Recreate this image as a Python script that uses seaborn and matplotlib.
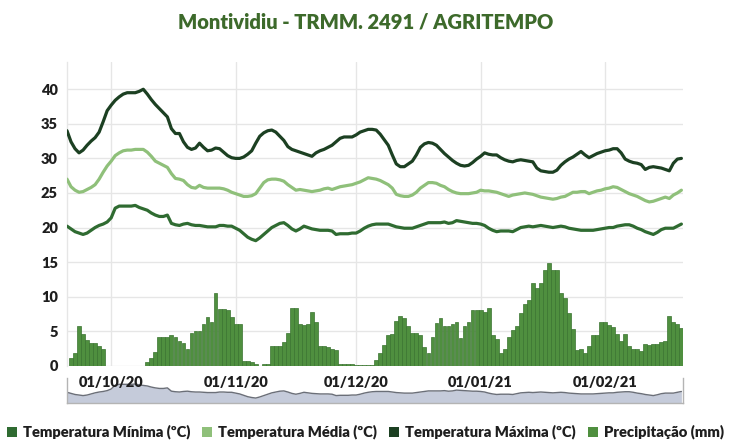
import numpy as np
import pandas as pd
import matplotlib
matplotlib.use("Agg")
import matplotlib.pyplot as plt
import seaborn as sns
from matplotlib.patches import Rectangle

# ---- data -------------------------------------------------------------
start_date = "2020-09-20"
n_days = 154

t_max = [34.0, 32.4, 31.4, 30.8, 31.2, 31.9, 32.5, 33.0, 33.8, 35.3,
         36.9, 37.7, 38.4, 38.9, 39.3, 39.5, 39.5, 39.5, 39.7, 40.0,
         39.3, 38.5, 37.8, 37.2, 36.6, 36.0, 34.3, 33.6, 33.6, 32.4,
         31.6, 31.3, 31.5, 32.2, 31.6, 31.1, 31.2, 31.5, 31.4, 30.9,
         30.4, 30.1, 30.0, 30.0, 30.2, 30.6, 31.1, 32.2, 33.2, 33.7,
         34.0, 34.1, 33.8, 33.2, 32.6, 31.7, 31.3, 31.1, 30.9, 30.7,
         30.5, 30.3, 30.8, 31.1, 31.3, 31.6, 31.9, 32.4, 32.9, 33.1,
         33.1, 33.1, 33.4, 33.8, 34.0, 34.2, 34.2, 34.1, 33.5, 32.7,
         31.9, 30.5, 29.2, 28.8, 28.8, 29.2, 29.6, 30.5, 31.6, 32.1,
         32.3, 32.2, 31.9, 31.3, 30.7, 30.2, 29.7, 29.3, 29.0, 28.9,
         29.0, 29.4, 29.9, 30.3, 30.8, 30.6, 30.5, 30.5, 30.1, 29.8,
         29.6, 29.5, 29.7, 29.8, 29.7, 29.6, 29.5, 28.6, 28.2, 28.1,
         28.0, 28.0, 28.3, 29.0, 29.5, 29.9, 30.2, 30.6, 31.0, 30.5,
         30.1, 30.4, 30.7, 30.9, 31.1, 31.2, 31.4, 31.4, 30.8, 29.9,
         29.6, 29.4, 29.3, 29.1, 28.4, 28.7, 28.8, 28.7, 28.6, 28.4,
         28.2, 29.3, 29.9, 30.0]

t_med = [27.0, 25.9, 25.4, 25.1, 25.2, 25.5, 25.8, 26.2, 27.0, 28.0,
         28.9, 29.6, 30.4, 30.8, 31.1, 31.2, 31.2, 31.3, 31.3, 31.3,
         30.9, 30.3, 29.6, 29.3, 29.0, 28.7, 27.8, 27.1, 27.0, 26.8,
         26.2, 25.8, 25.7, 26.1, 25.8, 25.7, 25.7, 25.7, 25.7, 25.6,
         25.4, 25.1, 24.9, 24.7, 24.5, 24.5, 24.6, 24.9, 25.7, 26.5,
         26.9, 27.0, 27.0, 26.9, 26.7, 26.2, 25.8, 25.4, 25.5, 25.4,
         25.3, 25.2, 25.3, 25.4, 25.6, 25.7, 25.5, 25.7, 25.9, 26.0,
         26.1, 26.2, 26.4, 26.6, 26.9, 27.2, 27.1, 27.0, 26.8, 26.5,
         26.2, 25.7, 24.8, 24.6, 24.5, 24.5, 24.7, 25.1, 25.7, 26.1,
         26.5, 26.5, 26.4, 26.1, 25.9, 25.5, 25.2, 25.0, 24.9, 24.9,
         24.9, 25.0, 25.1, 25.4, 25.3, 25.3, 25.2, 25.1, 24.9, 24.7,
         24.5, 24.7, 24.8, 24.9, 25.0, 24.9, 24.8, 24.6, 24.4, 24.3,
         24.2, 24.1, 24.2, 24.4, 24.5, 24.8, 25.1, 25.1, 25.2, 25.2,
         24.9, 25.1, 25.3, 25.4, 25.6, 25.7, 25.9, 25.8, 25.5, 25.2,
         24.9, 24.7, 24.5, 24.2, 23.9, 23.7, 23.8, 24.0, 24.2, 24.4,
         24.2, 24.7, 25.0, 25.4]

t_min = [20.2, 19.8, 19.4, 19.2, 19.0, 19.2, 19.6, 20.0, 20.3, 20.5,
         20.8, 21.4, 22.8, 23.1, 23.1, 23.1, 23.1, 23.2, 22.9, 22.7,
         22.5, 22.1, 21.8, 21.6, 21.6, 21.8, 20.6, 20.4, 20.3, 20.5,
         20.6, 20.4, 20.3, 20.3, 20.2, 20.1, 20.1, 20.1, 20.3, 20.3,
         20.2, 20.2, 19.9, 19.6, 19.1, 18.6, 18.3, 18.1, 18.5, 19.0,
         19.5, 20.0, 20.3, 20.6, 20.7, 20.3, 19.8, 19.5, 19.8, 20.2,
         20.0, 19.8, 19.7, 19.6, 19.6, 19.6, 19.5, 19.0, 19.1, 19.1,
         19.1, 19.2, 19.2, 19.5, 19.9, 20.2, 20.4, 20.5, 20.5, 20.5,
         20.5, 20.3, 20.1, 20.0, 19.9, 19.9, 19.9, 20.1, 20.3, 20.5,
         20.7, 20.7, 20.7, 20.7, 20.8, 20.6, 20.7, 21.0, 20.9, 20.8,
         20.7, 20.6, 20.6, 20.5, 20.3, 19.9, 19.6, 19.4, 19.5, 19.5,
         19.5, 19.4, 19.7, 20.0, 20.1, 20.2, 20.1, 20.2, 20.3, 20.2,
         20.1, 20.0, 20.1, 20.2, 20.1, 19.9, 19.8, 19.7, 19.6, 19.6,
         19.6, 19.6, 19.7, 19.8, 19.9, 20.0, 20.0, 20.2, 20.3, 20.4,
         20.4, 20.2, 19.9, 19.7, 19.4, 19.2, 19.0, 19.3, 19.7, 19.9,
         19.9, 19.9, 20.2, 20.5]

precip = [0.0, 1.2, 1.8, 5.7, 4.6, 3.8, 3.3, 3.3, 2.9, 2.4,
          0.0, 0.0, 0.0, 0.0, 0.0, 0.0, 0.0, 0.0, 0.0, 0.0,
          0.5, 1.2, 2.0, 4.1, 4.1, 4.1, 4.5, 4.2, 3.6, 3.3,
          2.4, 4.8, 5.0, 5.0, 6.1, 7.0, 6.3, 10.6, 8.2, 8.2,
          8.0, 7.0, 6.1, 6.1, 0.7, 0.7, 0.6, 0.2, 0.0, 0.2,
          0.2, 2.8, 2.9, 2.9, 3.5, 4.8, 8.3, 8.3, 6.0, 5.9,
          6.0, 7.8, 6.4, 2.9, 2.9, 2.7, 2.5, 2.3, 0.2, 0.2,
          0.2, 0.2, 0.1, 0.1, 0.1, 0.1, 0.1, 0.8, 1.8, 3.0,
          4.5, 4.6, 6.5, 7.2, 6.9, 5.8, 4.7, 4.7, 4.4, 2.7,
          1.8, 4.1, 6.2, 6.9, 5.8, 5.8, 6.0, 6.4, 4.0, 5.8,
          6.4, 8.1, 8.1, 8.1, 7.8, 8.3, 4.5, 3.9, 1.9, 2.5,
          4.2, 5.2, 5.7, 7.6, 8.9, 9.5, 12.0, 11.2, 12.0, 13.8,
          14.8, 13.8, 13.8, 10.6, 9.8, 7.7, 5.3, 2.3, 2.4, 1.8,
          2.8, 4.5, 4.5, 6.4, 6.4, 5.9, 5.6, 4.6, 3.6, 4.6,
          2.8, 2.5, 2.4, 2.2, 3.2, 3.0, 3.1, 3.2, 3.5, 3.6,
          7.2, 6.4, 6.0, 5.4]

month_starts = ["2020-10-01", "2020-11-01", "2020-12-01", "2021-01-01", "2021-02-01"]
month_labels = ["01/10/20", "01/11/20", "01/12/20", "01/01/21", "01/02/21"]
y_ticks = [0, 5, 10, 15, 20, 25, 30, 35, 40]

title = "Montividiu - TRMM. 2491 / AGRITEMPO"
legend_labels = ["Temperatura Mínima (ºC)", "Temperatura Média (ºC)",
                 "Temperatura Máxima (ºC)", "Precipitação (mm)"]

# ---- styling ------------------------------------------------------------
C_MIN = "#2f6b31"
C_MED = "#8fc07a"
C_MAX = "#1c4022"
C_BAR = "#4f8f3f"
C_BAR_EDGE = "#3a7430"
C_TITLE = "#3d6a2b"
C_TEXT = "#1e1e1e"
C_GRID = "#e6e6e6"
WEIGHT = "heavy"

sns.set_theme(style="white")
plt.rcParams["font.family"] = ["Lato", "DejaVu Sans"]

dates = pd.date_range(start_date, periods=n_days, freq="D")
day = np.arange(n_days)
df = pd.DataFrame({"day": day, "date": dates, "t_min": t_min, "t_med": t_med,
                   "t_max": t_max, "precip": precip})
tick_days = [(pd.Timestamp(d) - dates[0]).days for d in month_starts]

W, H = 731, 440
fig = plt.figure(figsize=(W / 100, H / 100), dpi=100)

def fx(px):
    return px / W

def fy(py):
    return (H - py) / H

# main panel
ax = fig.add_axes([fx(67), fy(365.8), fx(683) - fx(67), fy(61.6) - fy(365.8)])
ax.set_zorder(2)

sns.barplot(data=df, x="day", y="precip", native_scale=True, color=C_BAR,
            saturation=1, edgecolor=C_BAR_EDGE, linewidth=0.5, width=0.95,
            errorbar=None, ax=ax, zorder=2)
sns.lineplot(data=df, x="day", y="t_min", color=C_MIN, lw=2.3, ax=ax, zorder=3)
sns.lineplot(data=df, x="day", y="t_med", color=C_MED, lw=2.3, ax=ax, zorder=3)
sns.lineplot(data=df, x="day", y="t_max", color=C_MAX, lw=2.3, ax=ax, zorder=3)

ax.set_xlim(0, n_days - 0.6)
ax.set_ylim(0, 44)
ax.set_yticks(y_ticks)
ax.set_yticklabels([str(v) for v in y_ticks])
ax.set_xticks(tick_days)
ax.set_xticklabels(month_labels)
ax.set_xlabel("")
ax.set_ylabel("")
ax.grid(True, color=C_GRID, lw=1, zorder=0)
ax.set_axisbelow(True)
ax.tick_params(axis="y", length=0, pad=6.5, labelsize=10.5, labelcolor=C_TEXT)
ax.tick_params(axis="x", length=0, pad=7.0, labelsize=10.5, labelcolor=C_TEXT)
for lab in ax.get_xticklabels() + ax.get_yticklabels():
    lab.set_fontweight(WEIGHT)
for s in ["top", "right", "bottom"]:
    ax.spines[s].set_visible(False)
ax.spines["left"].set_color(C_GRID)
ax.spines["left"].set_linewidth(1)
ax.patch.set_alpha(0)

# navigator strip with the minimum-temperature series
nav = fig.add_axes([fx(67), fy(403), fx(683) - fx(67), fy(378) - fy(403)])
nav.set_zorder(1)
nav_low = 16.3
nav.fill_between(day, t_min, nav_low, color="#c5cbda", lw=0)
sns.lineplot(data=df, x="day", y="t_min", color="#6b6f78", lw=1.0, ax=nav)
nav.set_xlim(0, n_days - 0.6)
nav.set_ylim(nav_low, 25.4)
nav.set_xticks([])
nav.set_yticks([])
nav.set_xlabel("")
nav.set_ylabel("")
nav.spines["top"].set_visible(False)
for s in ["left", "right", "bottom"]:
    nav.spines[s].set_color("#b4b4b4")
    nav.spines[s].set_linewidth(1)

# title
fig.text(0.5, fy(22), title, ha="center", va="center", fontsize=14.5,
         fontweight=WEIGHT, color=C_TITLE)

# legend row
fig.canvas.draw()
renderer = fig.canvas.get_renderer()
legend_colors = [C_MIN, C_MED, C_MAX, C_BAR]
legend_y = 432
texts, widths = [], []
for lab in legend_labels:
    t = fig.text(0, fy(legend_y), lab, ha="left", va="center", fontsize=10.6,
                 fontweight=WEIGHT, color=C_TEXT)
    texts.append(t)
    widths.append(t.get_window_extent(renderer).width)
sym, sym_gap, item_gap = 10, 6, 12
total = sum(sym + sym_gap + w for w in widths) + item_gap * (len(widths) - 1)
x = W / 2 - total / 2
for t, w, c in zip(texts, widths, legend_colors):
    fig.add_artist(Rectangle((fx(x), fy(legend_y + 5)), sym / W, sym / H,
                             transform=fig.transFigure, color=c, lw=0))
    t.set_x(fx(x + sym + sym_gap))
    x += sym + sym_gap + w + item_gap

fig.savefig("out.png", dpi=100)
